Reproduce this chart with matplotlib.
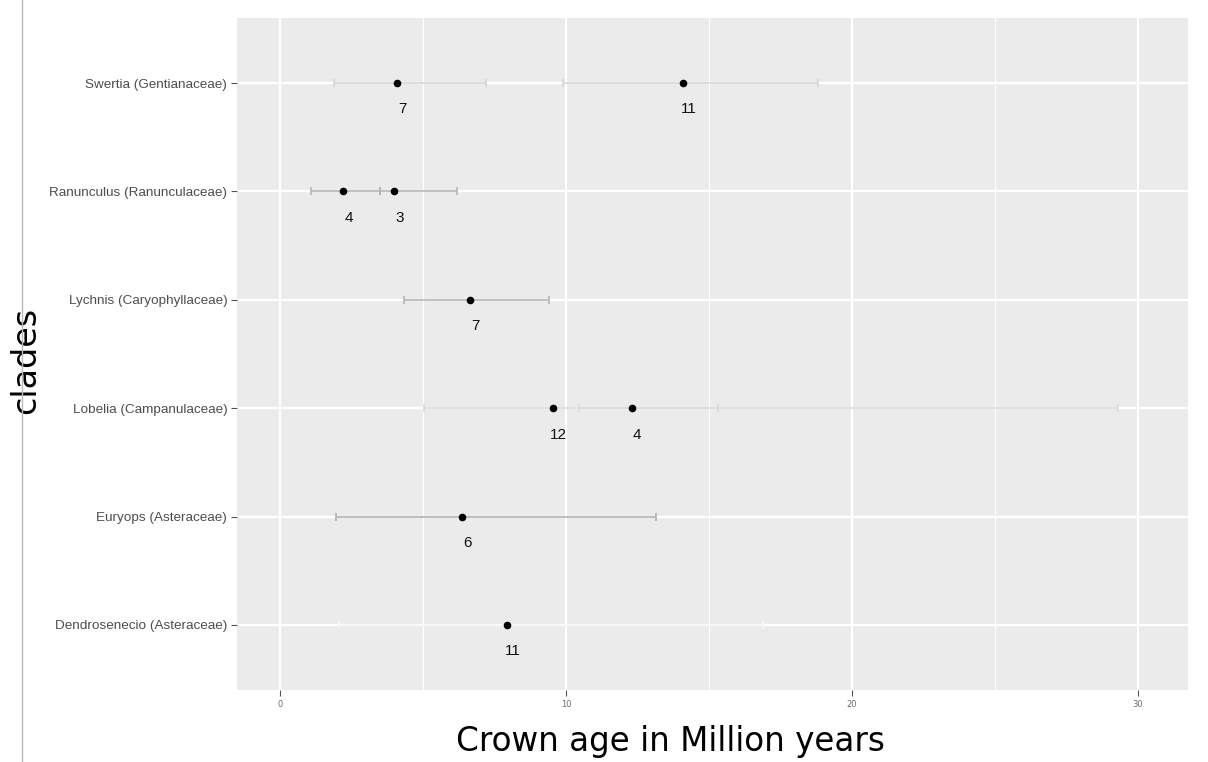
import matplotlib.pyplot as plt
from matplotlib.lines import Line2D
import numpy as np

# -------- Data --------
clades = ['Dendrosenecio (Asteraceae)', 'Euryops (Asteraceae)', 'Lobelia (Campanulaceae)',
          'Lychnis (Caryophyllaceae)', 'Ranunculus (Ranunculaceae)', 'Swertia (Gentianaceae)']

point_clade = ['Swertia (Gentianaceae)', 'Swertia (Gentianaceae)',
               'Ranunculus (Ranunculaceae)', 'Ranunculus (Ranunculaceae)',
               'Lychnis (Caryophyllaceae)',
               'Lobelia (Campanulaceae)', 'Lobelia (Campanulaceae)',
               'Euryops (Asteraceae)',
               'Dendrosenecio (Asteraceae)']
crown_age = [4.1, 14.1, 2.2, 4.0, 6.65, 9.55, 12.3, 6.35, 7.95]
age_low = [1.9, 9.9, 1.1, 3.5, 4.35, 5.05, 10.45, 1.95, 2.05]
age_high = [7.2, 18.8, 3.5, 6.2, 9.4, 15.3, 29.3, 13.15, 16.9]
n_species = [7, 11, 4, 3, 7, 12, 4, 6, 11]

bar_colors = ['#d6d6d6', '#d6d6d6', '#b5b5b5', '#b5b5b5', '#b5b5b5',
              '#dadada', '#dadada', '#b0b0b0', '#f7f7f7']

# ------ Set up figure layout --------
W, H = 1208, 762
fig = plt.figure(figsize=(W / 100, H / 100), dpi=100)
ax = fig.add_axes([237 / W, 1 - 690 / H, (1188 - 237) / W, (690 - 18) / H])
ax.set_facecolor('#EBEBEB')
for s in ax.spines.values():
    s.set_visible(False)

ax.set_xlim(-1.5, 31.75)
ax.set_ylim(0.4, 6.6)

# grid, ggplot style
for x in [5, 15, 25]:
    ax.axvline(x, color='white', lw=0.8, zorder=0)
for x in [0, 10, 20, 30]:
    ax.axvline(x, color='white', lw=1.6, zorder=0)
ypos = np.arange(1, len(clades) + 1)
for y in ypos:
    ax.axhline(y, color='white', lw=1.6, zorder=0)

# ------- Add Data ------
yy = [clades.index(c) + 1 for c in point_clade]
for i in range(len(crown_age)):
    ax.errorbar(crown_age[i], yy[i],
                xerr=[[crown_age[i] - age_low[i]], [age_high[i] - crown_age[i]]],
                fmt='none', ecolor=bar_colors[i], elinewidth=1.2, capsize=3, capthick=1.2, zorder=2)
ax.scatter(crown_age, yy, color='black', s=20, zorder=3)
for i in range(len(crown_age)):
    ax.annotate(str(n_species[i]), xy=(crown_age[i], yy[i]), xytext=(4, -19),
                textcoords='offset points', ha='center', va='center',
                fontsize=11, family='Liberation Sans', color='#111111')

# ------ Axes Labels --------
ax.set_yticks(ypos)
ax.set_yticklabels(clades, fontsize=9.7, family='Liberation Sans', color='#4d4d4d')
ax.set_xticks([0, 10, 20, 30])
ax.set_xticklabels(['0', '10', '20', '30'], fontsize=6, color='#6d6d6d')
ax.tick_params(axis='both', length=4, width=0.8, color='#555555', pad=3)
ax.set_xlabel('Crown age in Million years', fontsize=23.5)
ax.xaxis.set_label_coords(0.456, -0.052)
ax.set_ylabel('clades', fontsize=24)
ax.yaxis.set_label_coords(-0.205, 0.491)

# screenshot border line on the left
fig.add_artist(Line2D([22 / W, 22 / W], [0, 1], color='#bbbbbb', lw=1))

plt.savefig('out.png', dpi=100)
